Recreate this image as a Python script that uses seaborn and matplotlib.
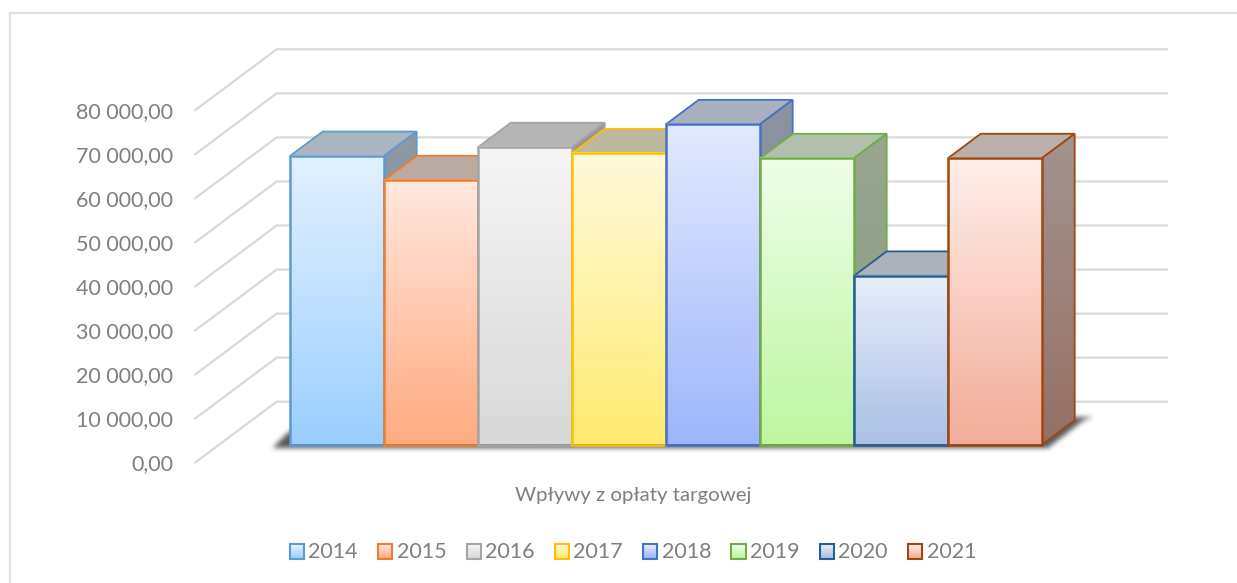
import matplotlib
matplotlib.use('Agg')
import matplotlib.pyplot as plt
import numpy as np
import pandas as pd
import seaborn as sns
from matplotlib.colors import to_rgb
from matplotlib.legend_handler import HandlerBase
from matplotlib.lines import Line2D
from matplotlib.patches import Patch, Polygon, Rectangle
from matplotlib.path import Path

# dane
years = ['2014', '2015', '2016', '2017', '2018', '2019', '2020', '2021']
revenue = [65500, 60000, 67500, 66100, 72700, 65000, 38300, 65000]
axis_ticks = [0, 10000, 20000, 30000, 40000, 50000, 60000, 70000, 80000]
axis_title = 'Wpływy z opłaty targowej'

# kolory
edge_colors = ['#5b9bd5', '#ed7d31', '#a5a5a5', '#ffc000', '#4472c4', '#70ad47', '#255e91', '#9e480e']
front_top = ['#e2f1ff', '#ffe8de', '#f5f5f5', '#fff8dc', '#e3eaff', '#eeffe8', '#e8edfa', '#ffefe9']
front_bottom = ['#9bcfff', '#ffab80', '#d8d8d8', '#ffec70', '#9db6fb', '#bdf6a0', '#aac0e5', '#f2ac9a']
top_faces = ['#abb5bf', '#bcaaa0', '#b5b5b5', '#bdb89e', '#a9b0c0', '#b2bfac', '#adb1ba', '#bcaeaa']
side_top = ['#8f99a3', '#a08e84', '#989898', '#a09a80', '#8e93a2', '#98a590', '#90949e', '#a29490']
side_bottom = ['#7f8d9b', '#96705a', '#8c8c8c', '#968c5c', '#7c8498', '#8a9f80', '#7a8290', '#967065']
text_color = '#7f7f7f'
grid_color = '#d9d9d9'

# skala w pikselach, os x to kategorie, os y to wartosci
W, H = 1237, 583
PX_BAR = 94.0
PX_10K = 44.05
X0, Y0 = 337.0, 444.5


def xd(px):
    return (px - X0) / PX_BAR


def yd(py):
    return (Y0 - py) / PX_10K * 10000


DX = 32.7 / PX_BAR
DY = 24.4 / PX_10K * 10000
WALL_FRONT = yd(Y0 + 18.2)
WALL_BACK = yd(Y0 - 42.8)


def gradient(c1, c2):
    return np.linspace(to_rgb(c1), to_rgb(c2), 256).reshape(256, 1, 3)


def soft_shadow(poly_px, box, passes=3, size=5, alpha=0.85):
    # rozmyty cien: maska wielokata + kilka przebiegow filtru usredniajacego
    x1, x2, y1, y2 = box
    xx, yy = np.meshgrid(np.arange(x1, x2) + 0.5, np.arange(y1, y2) + 0.5)
    pts = np.column_stack([xx.ravel(), yy.ravel()])
    mask = Path(poly_px).contains_points(pts).reshape(xx.shape).astype(float)
    kernel = np.ones(size) / size
    for _ in range(passes):
        mask = np.apply_along_axis(lambda r: np.convolve(r, kernel, mode='same'), 0, mask)
        mask = np.apply_along_axis(lambda r: np.convolve(r, kernel, mode='same'), 1, mask)
    rgba = np.zeros(mask.shape + (4,))
    rgba[..., :3] = to_rgb('#3c3c3c')
    rgba[..., 3] = mask * alpha
    return rgba


sns.set_theme(style='white')
plt.rcParams['font.family'] = ['Lato', 'DejaVu Sans']

fig = plt.figure(figsize=(W / 100, H / 100), dpi=100, facecolor='white')
ax = fig.add_axes([0, 0, 1, 1])

df = pd.DataFrame({'rok': years, 'wplywy': revenue})
sns.barplot(data=df, x='rok', y='wplywy', hue='rok', palette=edge_colors, fill=False,
            width=1, linewidth=1.8, legend=False, ax=ax)

# siatka na scianach
for v in axis_ticks:
    ax.plot([xd(195), xd(276.7), xd(1167)], [v + WALL_FRONT, v + WALL_BACK, v + WALL_BACK],
            color=grid_color, lw=1.6, zorder=1, solid_joinstyle='miter')
    ax.text(xd(173), v + WALL_FRONT - 300, f'{v:,.2f}'.replace(',', ' ').replace('.', ','),
            ha='right', va='center', fontsize=15.5, color=text_color)

# cien pod slupkami
box = (245, 1120, 400, 465)
shadow = soft_shadow([(272, 448), (1048, 448), (1084, 420), (1094, 417), (305, 417)], box)
ax.imshow(shadow, extent=(xd(box[0]), xd(box[1]), yd(box[3]), yd(box[2])), aspect='auto', zorder=2,
          interpolation='bilinear')

for i, (bar, v) in enumerate(zip(ax.patches, revenue)):
    z = 10 + i
    x0, x1 = i - 0.5, i + 0.5
    ec = edge_colors[i]
    ax.add_patch(Polygon([(x0, v), (x1, v), (x1 + DX, v + DY), (x0 + DX, v + DY)], closed=True,
                         facecolor=top_faces[i], edgecolor=ec, lw=1.3, zorder=z))
    side = Polygon([(x1, 0), (x1 + DX, DY), (x1 + DX, v + DY), (x1, v)], closed=True,
                   facecolor='none', edgecolor=ec, lw=1.3, zorder=z + 0.2)
    ax.add_patch(side)
    im = ax.imshow(gradient(side_top[i], side_bottom[i]), extent=(x1, x1 + DX, 0, v + DY),
                   aspect='auto', zorder=z + 0.1)
    im.set_clip_path(Polygon(side.get_xy(), transform=ax.transData))
    ax.imshow(gradient(front_top[i], front_bottom[i]), extent=(x0, x1, 0, v),
              aspect='auto', zorder=z + 0.3)
    bar.set_zorder(z + 0.4)

ax.set_xlim(xd(0), xd(W))
ax.set_ylim(yd(H), yd(0))
ax.set_axis_off()


class GradientHandler(HandlerBase):
    # kwadrat legendy z gradientem jak na slupkach
    def create_artists(self, legend, orig, xdescent, ydescent, width, height, fontsize, trans):
        i = years.index(orig.get_label())
        arts = []
        colors = gradient(front_bottom[i], front_top[i])[:, 0]
        n = 8
        for k in range(n):
            arts.append(Rectangle((0, height * k / n), width, height / n + 0.1,
                                  facecolor=colors[int(255 * k / (n - 1))], lw=0, transform=trans))
        arts.append(Rectangle((0, 0), width, height, facecolor='none', edgecolor=edge_colors[i],
                              lw=1.5, transform=trans))
        return arts


handles = [Patch(label=y) for y in years]
fig.legend(handles=handles, handler_map={Patch: GradientHandler()}, ncol=8, frameon=False,
           loc='center', bbox_to_anchor=(633 / W, 1 - 552.5 / H), fontsize=15.5,
           labelcolor=text_color, handlelength=0.66, handleheight=0.66, handletextpad=0.2,
           columnspacing=0.94, borderpad=0)

fig.text(633 / W, 1 - 495.5 / H, axis_title, ha='center', va='center', fontsize=14.7, color=text_color)

# ramka wykresu, tylko gora i lewa strona
fig.add_artist(Line2D([10 / W, 10 / W, 1], [0, 1 - 13 / H, 1 - 13 / H], color='#e0e0e0', lw=1.6,
                      solid_joinstyle='miter'))

fig.savefig('out.png', dpi=100)
